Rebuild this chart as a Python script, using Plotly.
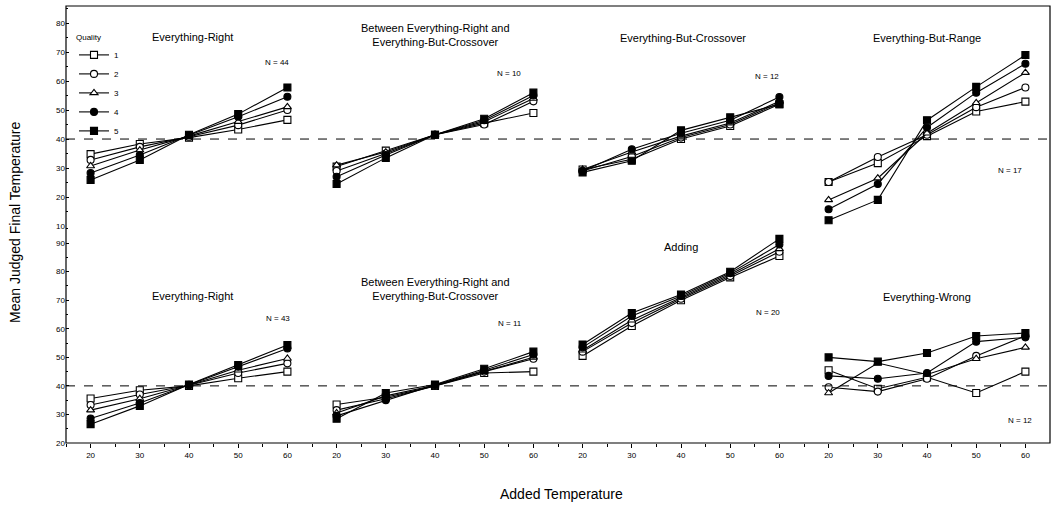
import plotly.graph_objects as go
from plotly.subplots import make_subplots

# ---------------- data ----------------
ADDED_TEMPS = [20, 30, 40, 50, 60]
QUALITY_LABELS = ["1", "2", "3", "4", "5"]
REFERENCE_LEVEL = 40

# Top row
ER_TOP = [
    [34.8, 38.3, 40.5, 43.3, 46.6],
    [32.8, 37.3, 40.8, 44.8, 50.0],
    [30.7, 36.2, 41.0, 46.0, 51.1],
    [28.3, 34.5, 41.3, 47.7, 54.6],
    [25.9, 32.8, 41.5, 48.6, 57.8],
]
BETWEEN_TOP = [
    [30.5, 36.0, 41.5, 45.5, 49.0],
    [29.0, 35.0, 41.5, 45.0, 53.0],
    [31.0, 35.5, 41.5, 46.0, 54.0],
    [27.0, 34.5, 41.5, 46.5, 55.0],
    [24.5, 33.5, 41.5, 47.0, 56.0],
]
EBC_TOP = [
    [29.5, 33.0, 40.0, 44.5, 52.0],
    [29.0, 34.0, 40.5, 45.0, 52.5],
    [29.5, 35.5, 41.0, 45.5, 53.0],
    [29.0, 36.5, 42.0, 46.5, 54.5],
    [28.5, 32.5, 43.0, 47.5, 52.0],
]
EBR_TOP = [
    [25.2, 31.7, 41.0, 49.5, 52.9],
    [25.2, 33.8, 41.5, 51.0, 57.8],
    [19.0, 26.5, 42.0, 52.5, 62.9],
    [15.8, 24.5, 44.0, 56.0, 66.0],
    [12.0, 19.0, 46.5, 58.0, 69.0],
]
# Bottom row
ER_BOT = [
    [35.6, 38.5, 40.0, 42.7, 45.0],
    [33.3, 37.0, 40.2, 44.5, 47.9],
    [31.5, 35.5, 40.3, 45.5, 49.6],
    [28.6, 34.0, 40.4, 46.7, 53.1],
    [26.6, 33.0, 40.5, 47.3, 54.3],
]
BETWEEN_BOT = [
    [33.5, 36.0, 40.0, 44.5, 45.0],
    [31.5, 35.5, 40.0, 45.0, 49.5],
    [30.5, 36.5, 40.2, 45.0, 50.0],
    [29.5, 35.0, 40.3, 45.5, 51.0],
    [28.5, 37.5, 40.5, 46.0, 52.0],
]
ADDING_BOT = [
    [50.5, 61.0, 70.0, 78.0, 85.5],
    [52.0, 62.0, 70.5, 78.5, 87.0],
    [52.5, 63.0, 71.0, 79.0, 88.0],
    [53.5, 64.5, 71.5, 79.5, 89.5],
    [54.5, 65.5, 72.0, 80.0, 91.5],
]
EW_BOT = [
    [45.5, 39.0, 43.0, 37.5, 45.0],
    [39.5, 38.0, 42.5, 50.5, 57.5],
    [37.5, 48.0, 44.0, 49.5, 53.5],
    [43.5, 42.5, 44.5, 55.5, 57.0],
    [50.0, 48.5, 51.5, 57.5, 58.5],
]

PANELS_TOP = [ER_TOP, BETWEEN_TOP, EBC_TOP, EBR_TOP]
PANELS_BOT = [ER_BOT, BETWEEN_BOT, ADDING_BOT, EW_BOT]

TITLES_TOP = ["Everything-Right",
              "Between Everything-Right and<br>Everything-But-Crossover",
              "Everything-But-Crossover", "Everything-But-Range"]
TITLES_BOT = ["Everything-Right",
              "Between Everything-Right and<br>Everything-But-Crossover",
              "Adding", "Everything-Wrong"]
N_TOP = ["N = 44", "N = 10", "N = 12", "N = 17"]
N_BOT = ["N = 43", "N = 11", "N = 20", "N = 12"]

X_TICKS = [20, 30, 40, 50, 60]
Y_TICKS_TOP = [10, 20, 30, 40, 50, 60, 70, 80]
Y_TICKS_BOT = [20, 30, 40, 50, 60, 70, 80, 90]

# ---------------- layout geometry ----------------
W, H = 1053, 505
ML, MR, MT, MB = 66, 3, 6, 62
PW, PH = W - ML - MR, H - MT - MB
FONT = "Liberation Sans, Arial, sans-serif"

SYMBOLS = ["square", "circle", "triangle-up", "circle", "square"]
FILLS = ["white", "white", "white", "black", "black"]


def px(x):
    return (x - ML) / PW


def py(y):
    return 1 - (y - MT) / PH


fig = make_subplots(rows=2, cols=4, horizontal_spacing=0, vertical_spacing=0,
                    row_heights=[220 / PH, 217 / PH])

for r, panels in enumerate([PANELS_TOP, PANELS_BOT], start=1):
    for c, panel in enumerate(panels, start=1):
        for q, series in enumerate(panel):
            fig.add_trace(go.Scatter(
                x=ADDED_TEMPS, y=series, mode="lines+markers",
                name=QUALITY_LABELS[q], legendgroup=QUALITY_LABELS[q],
                showlegend=(r == 1 and c == 1),
                line=dict(color="black", width=1.1),
                marker=dict(symbol=SYMBOLS[q], size=7, color=FILLS[q],
                            line=dict(color="black", width=1.1)),
            ), row=r, col=c)

# axes
for r in (1, 2):
    for c in range(1, 5):
        xa = dict(range=[15, 65], showgrid=False, zeroline=False, showline=False)
        if r == 2:
            xa.update(tickmode="array", tickvals=X_TICKS, ticks="outside", ticklen=4,
                      tickcolor="black", tickfont=dict(size=8, color="black", family=FONT),
                      minor=dict(ticks="outside", ticklen=3, tickmode="array",
                                 tickvals=[15, 25, 35, 45, 55], tickcolor="black"))
        else:
            xa.update(showticklabels=False, ticks="")
        fig.update_xaxes(row=r, col=c, **xa)

        yr = [10, 85.9] if r == 1 else [20, 96]
        ya = dict(range=yr, showgrid=False, zeroline=False, showline=False)
        if c == 1:
            ya.update(tickmode="array", tickvals=Y_TICKS_TOP if r == 1 else Y_TICKS_BOT,
                      ticks="inside", ticklen=3, tickcolor="black",
                      tickfont=dict(size=8, color="black", family=FONT),
                      minor=dict(ticks="inside", ticklen=2, tickmode="array",
                                 tickvals=[v + 5 for v in (Y_TICKS_TOP if r == 1 else Y_TICKS_BOT)],
                                 tickcolor="black"))
        else:
            ya.update(showticklabels=False, ticks="")
        fig.update_yaxes(row=r, col=c, **ya)

# dashed reference lines across each row
for yref in ("y", "y5"):
    fig.add_shape(type="line", xref="paper", x0=0, x1=1, yref=yref,
                  y0=REFERENCE_LEVEL, y1=REFERENCE_LEVEL,
                  line=dict(color="black", width=1, dash="dash"))

# frame
fig.add_shape(type="rect", xref="paper", yref="paper", x0=0, x1=1, y0=0, y1=1,
              line=dict(color="black", width=1.2))

# panel titles and N labels
TITLE_POS_TOP = [(192, 37), (435, 35), (683, 38), (927, 38)]
TITLE_POS_BOT = [(192, 296), (435, 289), (681, 247), (927, 297)]
N_POS_TOP = [(277, 62), (509, 74), (767, 76), (1010, 170)]
N_POS_BOT = [(278, 318), (510, 323), (768, 312), (1020, 420)]

for titles, pos in ((TITLES_TOP, TITLE_POS_TOP), (TITLES_BOT, TITLE_POS_BOT)):
    for t, (x, y) in zip(titles, pos):
        fig.add_annotation(text=t, xref="paper", yref="paper", x=px(x), y=py(y),
                           showarrow=False, xanchor="center", yanchor="middle",
                           font=dict(size=11, color="black", family=FONT))
for labels, pos in ((N_TOP, N_POS_TOP), (N_BOT, N_POS_BOT)):
    for t, (x, y) in zip(labels, pos):
        fig.add_annotation(text=t, xref="paper", yref="paper", x=px(x), y=py(y),
                           showarrow=False, xanchor="center", yanchor="middle",
                           font=dict(size=8, color="black", family=FONT))

# axis titles
fig.add_annotation(text="Mean Judged Final Temperature", xref="paper", yref="paper",
                   x=px(15), y=py(222), textangle=-90, showarrow=False,
                   xanchor="center", yanchor="middle",
                   font=dict(size=14, color="black", family=FONT))
fig.add_annotation(text="Added Temperature", xref="paper", yref="paper",
                   x=px(561), y=py(494), showarrow=False,
                   xanchor="center", yanchor="middle",
                   font=dict(size=14, color="black", family=FONT))

fig.update_layout(
    width=W, height=H,
    margin=dict(l=ML, r=MR, t=MT, b=MB),
    paper_bgcolor="white", plot_bgcolor="white",
    font=dict(family=FONT, color="black"),
    showlegend=True,
    legend=dict(x=px(74), y=py(30), xanchor="left", yanchor="top",
                bgcolor="rgba(0,0,0,0)", borderwidth=0,
                font=dict(size=8, color="black", family=FONT),
                title=dict(text="Quality", side="top",
                           font=dict(size=8, color="black", family=FONT)),
                itemwidth=30, tracegroupgap=0),
)

fig.write_html("out.html")
